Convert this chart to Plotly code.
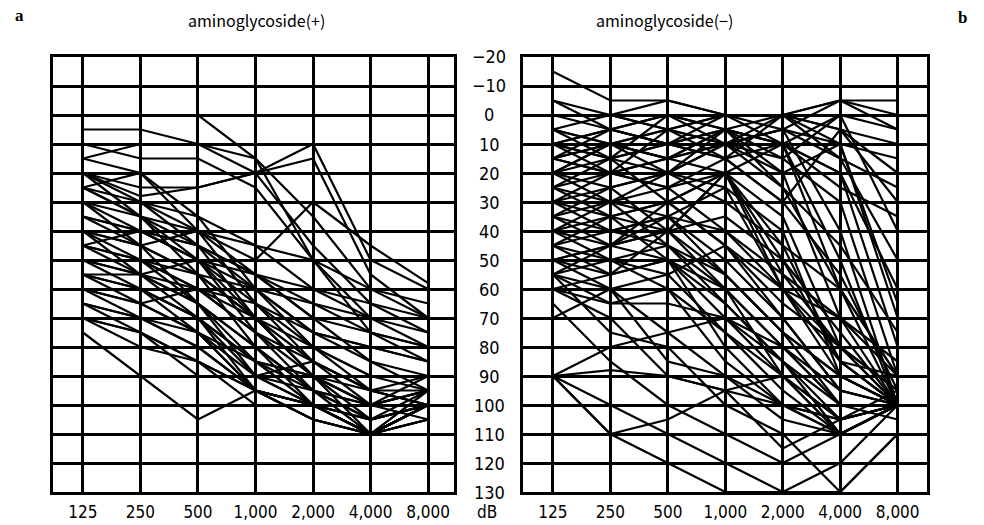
import plotly.graph_objects as go

# ---------------- data ----------------
freq_labels = ["125", "250", "500", "1,000", "2,000", "4,000", "8,000"]
db_ticks = list(range(-20, 131, 10))
db_labels = ["−20", "−10"] + [str(v) for v in range(0, 131, 10)]
title_left = "aminoglycoside(+)"
title_right = "aminoglycoside(−)"

# hearing levels (dB) at 125 ... 8000 Hz, one list per ear — aminoglycoside (+)
audiograms_pos = [
    [5, 5, 10, 20, 45, 65, 75],
    [15, 10, 10, 15, 35, 60, 70],
    [10, 15, 15, 25, 50, 70, 80],
    [20, 28, 25, 20, 15, 55, 70],
    [20, 25, 25, 20, 10, 50, 60],
    [25, 30, 40, 50, 30, 45, 58],
    [25, 35, 45, 55, 65, 75, 80],
    [30, 35, 40, 55, 70, 75, 85],
    [30, 30, 35, 45, 60, 70, 70],
    [35, 40, 50, 65, 80, 90, 95],
    [35, 45, 55, 70, 85, 95, 100],
    [40, 45, 55, 60, 65, 70, 75],
    [40, 50, 60, 75, 90, 105, 100],
    [40, 40, 45, 55, 70, 85, 90],
    [45, 50, 55, 70, 90, 110, 100],
    [45, 55, 65, 80, 95, 110, 105],
    [45, 40, 50, 60, 75, 85, 95],
    [50, 55, 60, 75, 85, 95, 95],
    [50, 60, 70, 85, 100, 110, 95],
    [50, 50, 60, 70, 80, 90, 90],
    [55, 60, 70, 90, 100, 110, 100],
    [55, 65, 75, 90, 95, 100, 105],
    [55, 55, 65, 80, 95, 105, 100],
    [60, 65, 75, 95, 100, 110, 105],
    [60, 60, 70, 85, 90, 95, 100],
    [60, 70, 80, 95, 100, 105, 100],
    [65, 70, 80, 95, 105, 110, 100],
    [65, 70, 75, 85, 90, 100, 95],
    [65, 75, 85, 95, 100, 110, 105],
    [70, 75, 85, 95, 105, 110, 100],
    [70, 80, 85, 100, 100, 105, 100],
    [75, 90, 105, 95, 100, 110, 100],
    [70, 75, 90, 90, 85, 95, 90],
    [60, 65, 60, 65, 75, 80, 85],
    [50, 55, 50, 55, 60, 65, 70],
    [40, 45, 40, 45, 50, 60, 65],
    [30, 40, 50, 70, 90, 100, 95],
    [35, 40, 45, 60, 75, 80, 85],
    [45, 50, 65, 85, 95, 100, 95],
    [55, 60, 75, 95, 105, 110, 100],
    [0, 0, 0, 15, 50, 75, 80],
    [25, 20, 35, 60, 80, 95, 100],
    [20, 30, 45, 70, 90, 100, 95],
    [25, 35, 55, 80, 100, 110, 100],
    [30, 45, 65, 90, 100, 105, 100],
    [15, 20, 40, 65, 85, 100, 90],
    [40, 55, 70, 95, 100, 110, 100],
    [20, 35, 50, 75, 95, 105, 95],
]

# aminoglycoside (−)
audiograms_neg = [
    [-15, -5, -5, 0, 0, -5, -5],
    [-5, 0, -5, 0, 0, -5, 0],
    [0, 0, 5, 0, 0, 5, 10],
    [5, 10, 5, 0, 10, 0, 5],
    [10, 5, 10, 5, 0, 10, 15],
    [15, 10, 15, 10, 5, 15, 50],
    [10, 15, 10, 5, 10, 20, 60],
    [15, 20, 15, 10, 5, 10, 70],
    [20, 15, 10, 15, 10, 20, 80],
    [15, 10, 5, 10, 15, 30, 90],
    [10, 15, 20, 10, 5, 40, 100],
    [20, 10, 15, 5, 10, 50, 100],
    [25, 20, 15, 20, 10, 60, 100],
    [5, 10, 15, 5, 20, 70, 100],
    [15, 20, 25, 20, 35, 80, 100],
    [20, 25, 20, 25, 40, 90, 100],
    [25, 30, 25, 15, 30, 55, 95],
    [30, 25, 20, 30, 45, 60, 90],
    [30, 35, 30, 20, 50, 75, 100],
    [35, 30, 35, 40, 55, 70, 85],
    [40, 35, 30, 45, 60, 80, 100],
    [40, 45, 40, 35, 50, 85, 100],
    [45, 40, 35, 50, 70, 95, 100],
    [35, 40, 45, 55, 75, 90, 100],
    [50, 45, 40, 60, 80, 100, 100],
    [50, 55, 50, 70, 90, 110, 100],
    [55, 50, 45, 65, 85, 105, 100],
    [55, 60, 55, 75, 95, 110, 100],
    [60, 55, 50, 80, 100, 105, 100],
    [60, 65, 60, 85, 100, 110, 100],
    [45, 55, 40, 20, 60, 70, 90],
    [50, 45, 30, 20, 55, 80, 95],
    [25, 35, 40, 20, 45, 85, 100],
    [30, 40, 35, 25, 60, 90, 100],
    [15, 5, 10, 0, 5, -5, 5],
    [10, 20, 5, 15, 0, 5, 30],
    [20, 10, 20, 5, 15, 0, 40],
    [5, 15, 0, 10, 20, 10, 65],
    [40, 30, 20, 10, 25, 45, 75],
    [35, 45, 50, 65, 85, 110, 100],
    [45, 50, 60, 75, 90, 105, 95],
    [55, 45, 35, 55, 75, 90, 100],
    [40, 50, 55, 45, 65, 80, 95],
    [25, 15, 30, 45, 70, 95, 100],
    [30, 20, 25, 40, 60, 85, 90],
    [90, 110, 120, 130, 130, 130, 110],
    [90, 100, 110, 120, 130, 120, 100],
    [90, 80, 75, 70, 80, 95, 100],
    [90, 88, 90, 95, 100, 105, 100],
    [90, 110, 105, 95, 90, 110, 100],
    [55, 75, 80, 100, 110, 130, 110],
    [60, 70, 90, 95, 115, 105, 100],
    [65, 85, 100, 110, 120, 110, 100],
    [55, 65, 65, 70, 85, 100, 100],
    [70, 60, 85, 90, 100, 110, 100],
    [50, 60, 75, 90, 105, 110, 100],
    [45, 35, 50, 60, 80, 100, 105],
    [35, 25, 40, 55, 75, 100, 100],
    [20, 30, 45, 60, 90, 105, 100],
    [10, 5, 0, 5, 25, 60, 90],
    [0, 5, 10, 15, 30, 5, 20],
    [5, 0, 5, 10, 0, 15, 25],
    [-5, 5, 0, 5, 10, 25, 35],
]

# ---------------- figure ----------------
LINE = dict(color="black", width=2.2)
fig = go.Figure()

for vals in audiograms_pos:
    fig.add_trace(go.Scatter(x=list(range(len(freq_labels))), y=vals, mode="lines",
                             line=LINE, xaxis="x", yaxis="y", showlegend=False,
                             hoverinfo="skip"))
for vals in audiograms_neg:
    fig.add_trace(go.Scatter(x=list(range(len(freq_labels))), y=vals, mode="lines",
                             line=LINE, xaxis="x2", yaxis="y2", showlegend=False,
                             hoverinfo="skip"))

W, H = 984, 525
NARROW = "Liberation Sans Narrow, Arial Narrow, DejaVu Sans Condensed, sans-serif"


def xaxis_cfg(x0, x1, rng, anchor):
    return dict(domain=[x0 / W, x1 / W], range=rng, tickmode="array",
                tickvals=list(range(len(freq_labels))), ticktext=freq_labels,
                showgrid=True, gridcolor="black", gridwidth=2.5, zeroline=False,
                showline=True, mirror=True, linecolor="black", linewidth=2.5,
                ticks="", ticklabelstandoff=3, anchor=anchor,
                tickfont=dict(family=NARROW, size=17, color="black"),
                fixedrange=True)


def yaxis_cfg(anchor):
    return dict(domain=[1 - 492 / H, 1 - 57 / H], range=[130, -20], tickmode="array",
                tickvals=db_ticks, showticklabels=False, anchor=anchor,
                showgrid=True, gridcolor="black", gridwidth=2.5, zeroline=False,
                showline=True, mirror=True, linecolor="black", linewidth=2.5,
                ticks="", fixedrange=True)


fig.update_layout(
    width=W, height=H,
    margin=dict(l=0, r=0, t=0, b=0),
    paper_bgcolor="white", plot_bgcolor="white",
    xaxis=xaxis_cfg(53, 454, [-0.52, 6.45], "y"),
    yaxis=yaxis_cfg("x"),
    xaxis2=xaxis_cfg(523, 927, [-0.52, 6.51], "y2"),
    yaxis2=yaxis_cfg("x2"),
)

annotations = []
# central dB scale
for v, lab in zip(db_ticks, db_labels):
    annotations.append(dict(x=489 / W, xref="paper", y=v, yref="y", text=lab,
                            showarrow=False, xanchor="center", yanchor="middle",
                            font=dict(family=NARROW, size=18, color="black")))
annotations.append(dict(x=487 / W, xref="paper", y=1 - 512 / H, yref="paper", text="dB",
                        showarrow=False, xanchor="center", yanchor="middle",
                        font=dict(family=NARROW, size=17, color="black")))
# panel titles
TFONT = dict(family="Noto Sans CJK JP, Noto Sans, sans-serif", size=16, color="black")
annotations.append(dict(x=256 / W, xref="paper", y=1 - 20 / H, yref="paper", text=title_left,
                        showarrow=False, xanchor="center", yanchor="middle", font=TFONT))
annotations.append(dict(x=664 / W, xref="paper", y=1 - 20 / H, yref="paper", text=title_right,
                        showarrow=False, xanchor="center", yanchor="middle", font=TFONT))
# panel letters
LFONT = dict(family="Liberation Serif, serif", size=17, color="black")
annotations.append(dict(x=19 / W, xref="paper", y=1 - 15 / H, yref="paper", text="<b>a</b>",
                        showarrow=False, xanchor="center", yanchor="middle", font=LFONT))
annotations.append(dict(x=962 / W, xref="paper", y=1 - 17 / H, yref="paper", text="<b>b</b>",
                        showarrow=False, xanchor="center", yanchor="middle", font=LFONT))
fig.update_layout(annotations=annotations)

fig.write_html("out.html", config={"displayModeBar": False},
               post_script="document.body.style.margin='0';")
